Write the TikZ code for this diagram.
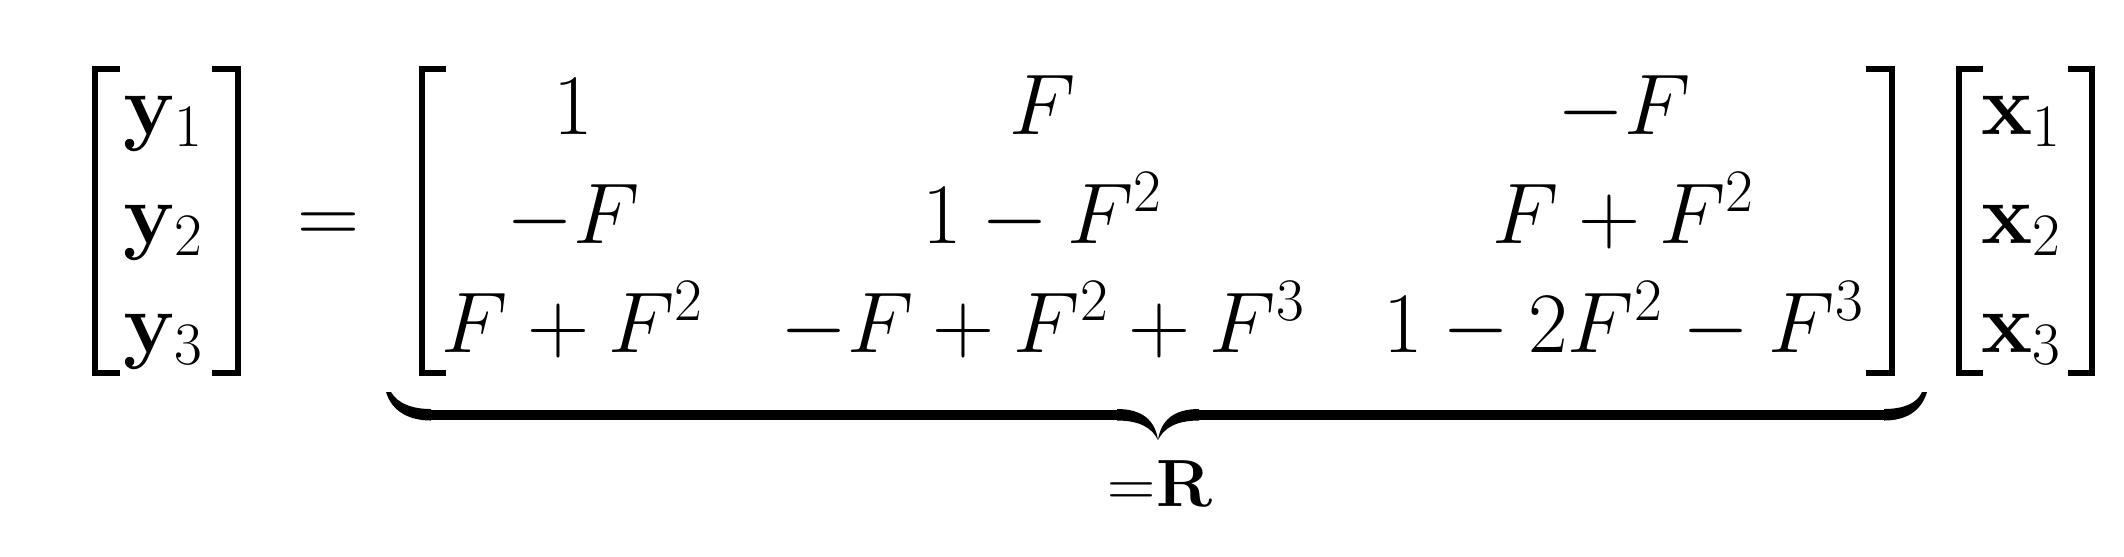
\RequirePackage{fix-cm}
\documentclass[tikz,border=0pt]{standalone}
\usepackage{amsmath}
\begin{document}
\begin{tikzpicture}[x=0.01cm,y=-0.01cm,
  ent/.style={anchor=base,inner sep=0pt,font=\fontsize{24.5}{29}\selectfont},
  lbl/.style={anchor=base,inner sep=0pt,font=\fontsize{19}{23}\selectfont},
  brk/.style={line width=0.06cm,line join=miter,line cap=butt},
  bracefill/.style={fill=black,draw=none}]
\useasboundingbox[fill=white] (0,0) rectangle (2124,556);
% brackets
\draw[brk] (120,69) -- (94.8,69) -- (94.8,373) -- (120,373);
\draw[brk] (212,69) -- (237.5,69) -- (237.5,373) -- (212,373);
\draw[brk] (446,69) -- (421.5,69) -- (421.5,373) -- (446,373);
\draw[brk] (1866,69) -- (1891.5,69) -- (1891.5,373) -- (1866,373);
\draw[brk] (1983,69) -- (1958.5,69) -- (1958.5,373) -- (1983,373);
\draw[brk] (2068,69) -- (2091.5,69) -- (2091.5,373) -- (2068,373);
% left vector
\node[ent] (y1) at (164,134) {$\mathbf{y}_1$};
\node[ent] (y2) at (164,243) {$\mathbf{y}_2$};
\node[ent] (y3) at (164,352) {$\mathbf{y}_3$};
\node[ent] (eq) at (329,243) {$=$};
% matrix
\node[ent] (m11) at (573,134) {$1$};
\node[ent] (m12) at (1043,134) {$F$};
\node[ent] (m13) at (1624,134) {$-F$};
\node[ent] (m21) at (573,243) {$-F$};
\node[ent] (m22) at (1043,243) {$1-F^2$};
\node[ent] (m23) at (1624,243) {$F+F^2$};
\node[ent] (m31) at (573,352) {$F+F^2$};
\node[ent] (m32) at (1043,352) {$-F+F^2+F^3$};
\node[ent] (m33) at (1624,352) {$1-2F^2-F^3$};
% right vector
\node[ent] (x1) at (2022,134) {$\mathbf{x}_1$};
\node[ent] (x2) at (2022,243) {$\mathbf{x}_2$};
\node[ent] (x3) at (2022,352) {$\mathbf{x}_3$};
% underbrace
\fill[bracefill] (431,409.5) rectangle (1117,420);
\fill[bracefill] (1199,409.5) rectangle (1884,420);
\fill[bracefill] (386,392) .. controls (392,412) and (410,420.5) .. (431,420.5)
  -- (431,409) .. controls (413,409) and (398,404) .. (391,392) -- cycle;
\fill[bracefill] (1927,392) .. controls (1921,412) and (1905,420.5) .. (1884,420.5)
  -- (1884,409) .. controls (1902,409) and (1917,404) .. (1922,392) -- cycle;
\fill[bracefill] (1117,409) .. controls (1142,409) and (1155,420) .. (1158,440)
  .. controls (1152,428) and (1140,420.5) .. (1117,420.5) -- cycle;
\fill[bracefill] (1199,409) .. controls (1174,409) and (1161,420) .. (1158,440)
  .. controls (1164,428) and (1176,420.5) .. (1199,420.5) -- cycle;
\node[lbl] (R) at (1160,506) {${=}\mathbf{R}$};
\end{tikzpicture}
\end{document}
